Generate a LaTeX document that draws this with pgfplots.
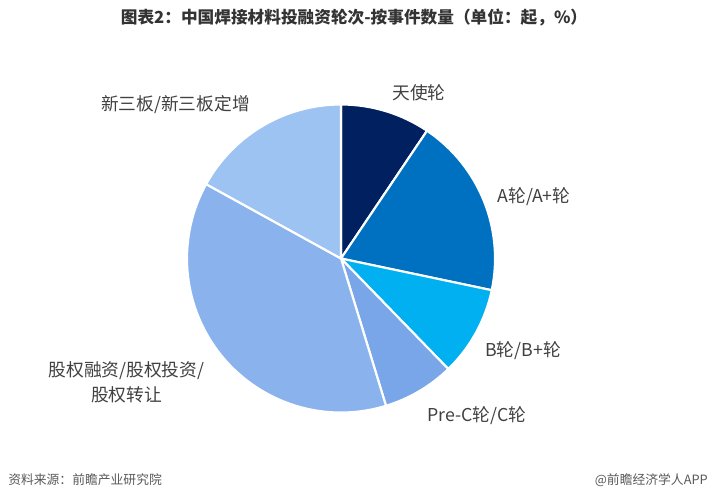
\documentclass[border=0pt]{standalone}
\usepackage{pgfplots}
\usepackage{pgfplotstable}
\pgfplotsset{compat=1.18}
\usepackage{fontspec}
\setmainfont{Noto Sans CJK SC}
\definecolor{slice0}{HTML}{002060}
\definecolor{slice1}{HTML}{0070C0}
\definecolor{slice2}{HTML}{00B0F0}
\definecolor{slice3}{HTML}{78A6E9}
\definecolor{slice4}{HTML}{8AB3EE}
\definecolor{slice5}{HTML}{9DC3F2}
\definecolor{labeltext}{HTML}{404040}
\definecolor{titletext}{HTML}{333333}
\definecolor{foottext}{HTML}{595959}
\pgfplotstableread{
key value
tianshi 5
A 10
B 5
PreC 4
guquan 20
xinsanban 9
}\piedata
\begin{document}
\begin{tikzpicture}
\begin{axis}[x=0.75pt, y=0.75pt, xmin=0, xmax=712, ymin=0, ymax=503,
  hide axis, clip=false, anchor=south west, at={(0,0)}]
\pgfplotstablegetrowsof{\piedata}
\pgfmathtruncatemacro{\nrows}{\pgfplotsretval-1}
\def\total{0}
\pgfplotsforeachungrouped \i in {0,...,\nrows}{%
  \pgfplotstablegetelem{\i}{value}\of\piedata
  \pgfmathsetmacro{\total}{\total+\pgfplotsretval}%
}
\def\cum{0}
\pgfplotsforeachungrouped \i in {0,...,\nrows}{%
  \pgfplotstablegetelem{\i}{value}\of\piedata
  \let\v\pgfplotsretval
  \pgfmathsetmacro{\a}{90-\cum/\total*360}%
  \pgfmathsetmacro{\b}{90-(\cum+\v)/\total*360}%
  \pgfmathsetmacro{\cum}{\cum+\v}%
  \edef\temp{\noexpand\filldraw[fill=slice\i, draw=white, line width=1.6pt, line join=round]
    (axis cs:341,244.5) -- (axis cs:{341+154*cos(\a)},{244.5+154*sin(\a)})
    arc[start angle=\a, end angle=\b, radius=115.5pt] -- cycle;}%
  \temp
}
% title
\node[font=\fontsize{12.5}{15}\selectfont\bfseries, text=titletext] at (axis cs:354,485) {图表2：中国焊接材料投融资轮次-按事件数量（单位：起，\%）};
% labels
\node[font=\fontsize{13.3}{16}\selectfont, text=labeltext] at (axis cs:419,410.5) {天使轮};
\node[font=\fontsize{13.3}{16}\selectfont, text=labeltext] at (axis cs:534,306.5) {A轮/A+轮};
\node[font=\fontsize{13.3}{16}\selectfont, text=labeltext] at (axis cs:523,152.5) {B轮/B+轮};
\node[font=\fontsize{13.3}{16}\selectfont, text=labeltext] at (axis cs:477,87.5) {Pre-C轮/C轮};
\node[font=\fontsize{13.3}{18.5}\selectfont, text=labeltext, align=center] at (axis cs:126.5,121) {股权融资/股权投资/\\股权转让};
\node[font=\fontsize{13.3}{16}\selectfont, text=labeltext] at (axis cs:175.5,398) {新三板/新三板定增};
% footer
\node[font=\fontsize{9.6}{12}\selectfont, text=foottext, anchor=west, inner sep=0pt] at (axis cs:8,23) {资料来源：前瞻产业研究院};
\node[font=\fontsize{9.6}{12}\selectfont, text=foottext, anchor=east, inner sep=0pt] at (axis cs:708,23) {@前瞻经济学人APP};
\end{axis}
\pgfresetboundingbox
\useasboundingbox (0,0) rectangle (534pt,377.25pt);
\end{tikzpicture}
\end{document}
